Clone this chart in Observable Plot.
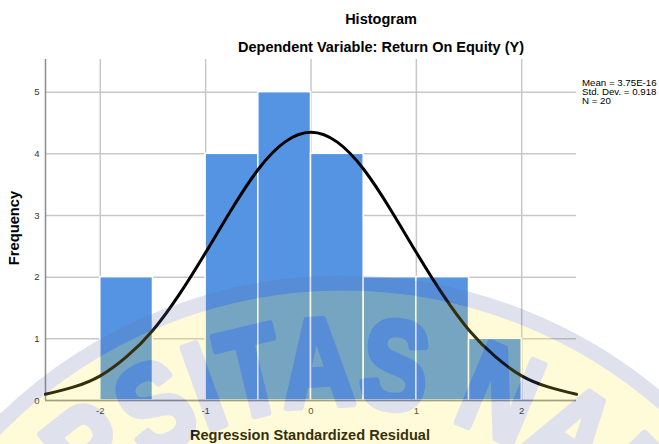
<!DOCTYPE html>
<html>
<head>
<meta charset="utf-8">
<script src="https://cdn.jsdelivr.net/npm/d3@7"></script>
<script src="https://cdn.jsdelivr.net/npm/@observablehq/plot@0.6"></script>
<style>
  html, body { margin: 0; padding: 0; background: #fff; }
  #chart { width: 659px; height: 444px; }
  svg { font-family: "Liberation Sans", Arial, sans-serif; }
</style>
</head>
<body>
<div id="chart"></div>
<script>
// Histogram bins (regression standardized residual) and frequencies
const binStart = [-2, -1, -0.5, 0, 0.5, 1, 1.5];
const binEnd   = [-1.5, -0.5, 0, 0.5, 1, 1.5, 2];
const counts   = [2, 4, 5, 4, 2, 2, 1];

// Normal curve
const curveX = [-2.52, -2.25, -2, -1.75, -1.5, -1.25, -1, -0.75, -0.5, -0.25, 0, 0.25, 0.5, 0.75, 1, 1.25, 1.5, 1.75, 2, 2.25, 2.52];
const curveY = [0.10, 0.22, 0.40, 0.71, 1.14, 1.72, 2.40, 3.11, 3.75, 4.19, 4.35, 4.19, 3.75, 3.11, 2.40, 1.72, 1.14, 0.71, 0.40, 0.22, 0.10];

const xTicks = [-2, -1, 0, 1, 2];
const yTicks = [0, 1, 2, 3, 4, 5];

const titleText = "Histogram";
const subtitleText = "Dependent Variable: Return On Equity (Y)";
const xLabel = "Regression Standardized Residual";
const yLabel = "Frequency";
const legendLines = ["Mean = 3.75E-16", "Std. Dev. = 0.918", "N = 20"];
const watermarkText = "UNIVERSITAS NAROTAMA";

const bars = binStart.map((s, i) => ({x1: s, x2: binEnd[i], y: counts[i]}));
const curve = curveX.map((x, i) => ({x, y: curveY[i]}));

const xDomain = [-2.52, 2.52];

const plot = Plot.plot({
  width: 659,
  height: 444,
  marginLeft: 45,
  marginRight: 83,
  marginTop: 59,
  marginBottom: 44,
  style: {fontFamily: "'Liberation Sans', Arial, sans-serif", fontSize: "9.5px", color: "#333", background: "#fff"},
  x: {domain: xDomain, label: null},
  y: {domain: [0, 5.53], label: null},
  marks: [
    Plot.gridX(xTicks, {stroke: "#c8c8c8", strokeOpacity: 1, strokeWidth: 1.5}),
    Plot.gridY(yTicks, {stroke: "#c8c8c8", strokeOpacity: 1, strokeWidth: 1.5}),
    Plot.rectY(bars, {x1: "x1", x2: "x2", y: "y", fill: "#5494e3", stroke: "#fff", strokeWidth: 1.5}),
    Plot.ruleX([xDomain[0]], {stroke: "#8c8c8c", strokeWidth: 1.5}),
    Plot.ruleY([0], {stroke: "#8c8c8c", strokeWidth: 1.5}),
    Plot.line(curve, {x: "x", y: "y", curve: "natural", stroke: "#000", strokeWidth: 3}),
    Plot.axisX(xTicks, {tickSize: 0, tickPadding: 7, tickFormat: d => (d < 0 ? "-" + Math.abs(d) : String(d)), fill: "#333"}),
    Plot.axisY(yTicks, {tickSize: 0, tickPadding: 6, tickFormat: d => String(d), fill: "#333"})
  ]
});

const svg = d3.select(plot);
function addText(x, y, size, weight, str, anchor) {
  return svg.append("text").attr("x", x).attr("y", y).attr("text-anchor", anchor || "middle")
    .attr("font-size", size).attr("font-weight", weight).attr("fill", "#000").text(str);
}
addText(381, 24, 14.5, "bold", titleText);
addText(381, 52, 14.5, "bold", subtitleText);
addText(310, 439.5, 14.6, "bold", xLabel);
svg.append("text").attr("transform", "translate(19,228) rotate(-90)").attr("text-anchor", "middle")
  .attr("font-size", 14.7).attr("font-weight", "bold").attr("fill", "#000").text(yLabel);
legendLines.forEach((t, i) => addText(582, 85.5 + i * 9, 9.7, "normal", t, "start"));

// faint university watermark over the picture
const cx = 343, cy = 770, rb = 365;
const wm = svg.append("g").attr("opacity", 0.2).attr("pointer-events", "none");
wm.append("circle").attr("cx", cx).attr("cy", cy).attr("r", 487).attr("fill", "rgb(255,235,60)")
  .attr("stroke", "rgb(100,110,170)").attr("stroke-width", 15);
wm.append("path").attr("id", "wmArc").attr("fill", "none")
  .attr("d", `M ${cx - rb * 0.5} ${cy + rb * 0.866} A ${rb} ${rb} 0 1 1 ${cx + rb * 0.5} ${cy + rb * 0.866}`);
wm.append("text").attr("font-size", 125).attr("font-weight", "bold").attr("fill", "rgb(100,110,170)")
  .attr("stroke", "rgb(100,110,170)").attr("stroke-width", 7).attr("stroke-linejoin", "round")
  .append("textPath").attr("href", "#wmArc").attr("startOffset", "52.6%").attr("text-anchor", "middle")
  .attr("textLength", 1274).attr("lengthAdjust", "spacingAndGlyphs").text(watermarkText);

document.getElementById("chart").appendChild(plot);
</script>
</body>
</html>
